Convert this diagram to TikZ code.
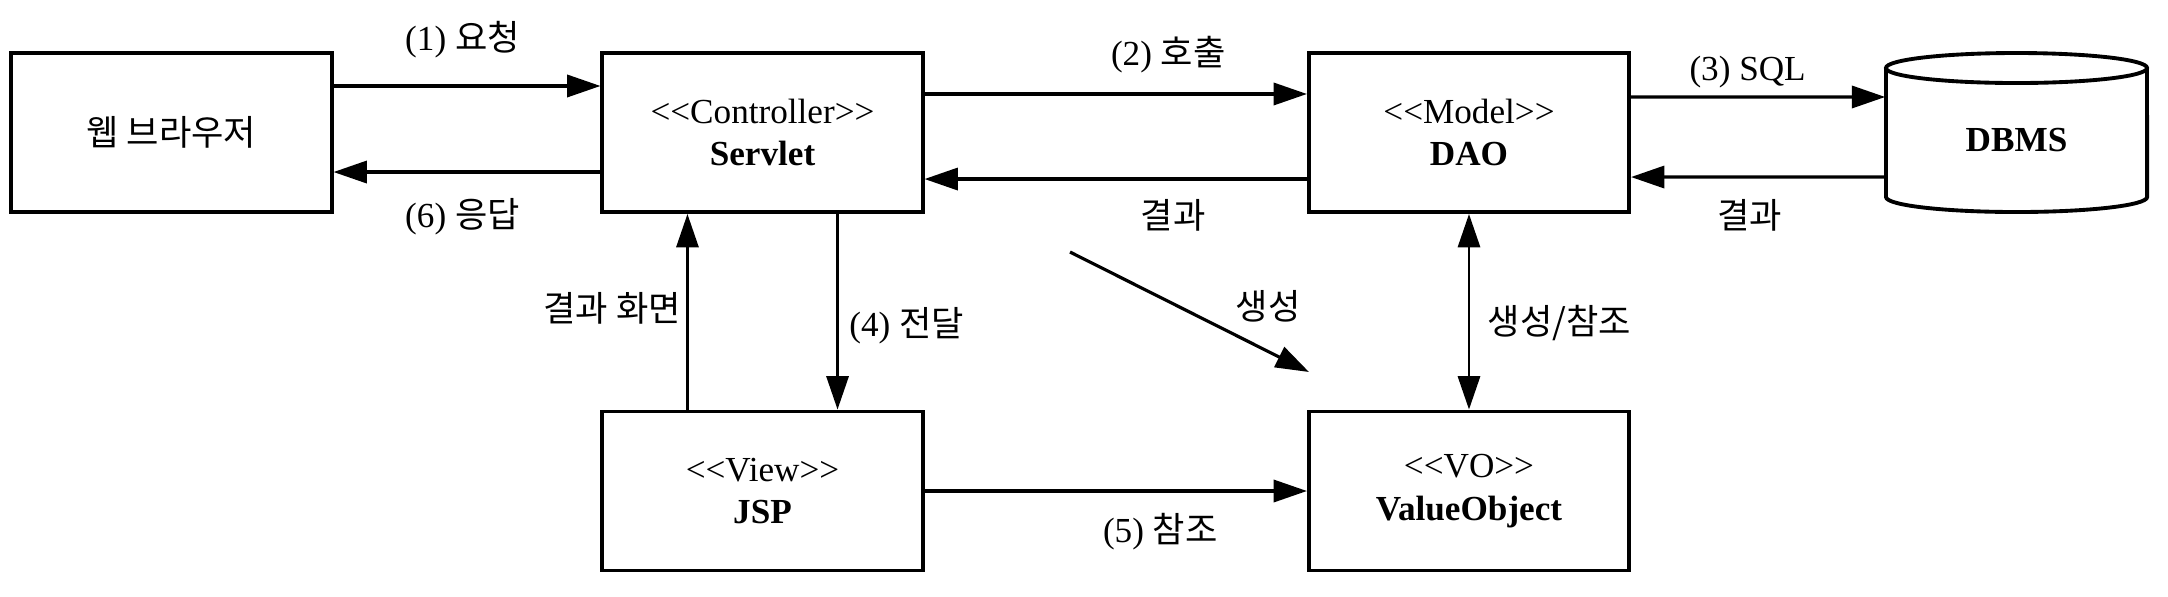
\documentclass[tikz,border=0pt]{standalone}
\usepackage{fontspec}
\setmainfont{Liberation Serif}
\newfontfamily\kr{Noto Sans CJK KR}
\usetikzlibrary{arrows.meta}
\newcommand{\ltlt}{<\kern0pt<}
\newcommand{\gtgt}{>\kern0pt>}
\newcommand{\stereo}[2]{\ltlt#1\gtgt\\\textbf{#2}}
\newcommand{\drawflow}{\draw[flow]}
\tikzset{
  box/.style={draw, line width=1.1pt, minimum width=3.2cm, minimum height=1.59cm, align=center},
  flow/.style={line width=0.9pt, -{Triangle[length=9.5pt,width=6.3pt]}},
  upflow/.style={flow, line width=0.75pt},
  lbl/.style={inner sep=2pt},
}

\begin{document}
\begin{tikzpicture}[x=0.01cm,y=-0.01cm]
\useasboundingbox (0,0) rectangle (2168,596);
\node[box] (browser) at (171.5,132.5) {\kr 웹 브라우저};
\node[box] (servlet) at (762.5,132.5) {\stereo{Controller}{Servlet}};
\node[box] (dao) at (1469,132.5) {\stereo{Model}{DAO}};
\node[box] (jsp) at (762.5,491) {\stereo{View}{JSP}};
\node[box] (vo) at (1469,491) {\stereo{VO}{ValueObject}};
\node[minimum width=2.61cm, minimum height=1.44cm, font=\bfseries] (dbms) at (2016.5,140) {DBMS};
\draw[line width=1.1pt] (1886,68) -- (1886,197) arc[start angle=180, end angle=360, x radius=1.305cm, y radius=0.15cm] -- (2147,68);
\draw[line width=1.1pt] (2016.5,68) ellipse[x radius=1.305cm, y radius=0.15cm];
\coordinate (mkstart) at (1070,252);
\coordinate (mkend) at (1309,372);
\drawflow ([yshift=0.465cm]browser.east) -- node[lbl, midway, xshift=-0.045cm, yshift=0.46cm] {(1) {\kr 요청}} ([yshift=0.465cm]servlet.west);
\drawflow ([yshift=-0.395cm]servlet.west) -- node[lbl, midway, xshift=-0.045cm, yshift=-0.45cm] {(6) {\kr 응답}} ([yshift=-0.395cm]browser.east);
\drawflow ([yshift=0.385cm]servlet.east) -- node[lbl, midway, xshift=0.525cm, yshift=0.39cm] {(2) {\kr 호출}} ([yshift=0.385cm]dao.west);
\drawflow ([yshift=-0.465cm]dao.west) -- node[lbl, midway, xshift=0.575cm, yshift=-0.36cm] {\kr 결과} ([yshift=-0.465cm]servlet.east);
\drawflow ([yshift=0.355cm]dao.east) -- node[lbl, midway, xshift=-0.105cm, yshift=0.25cm] {(3) SQL} ([yshift=0.43cm]dbms.west);
\drawflow ([yshift=-0.37cm]dbms.west) -- node[lbl, midway, xshift=-0.085cm, yshift=-0.38cm] {\kr 결과} ([yshift=-0.445cm]dao.east);
\draw[upflow] ([xshift=-0.75cm]jsp.north) -- node[lbl, pos=0.52, left=-0.5pt] {\kr 결과 화면} ([xshift=-0.75cm]servlet.south);
\draw[upflow] ([xshift=0.75cm]servlet.south) -- node[lbl, pos=0.57, right=1pt] {(4) {\kr 전달}} ([xshift=0.75cm]jsp.north);
\draw[upflow, {Triangle[length=9.5pt,width=6.3pt]}-{Triangle[length=9.5pt,width=6.3pt]}] (dao.south) -- node[lbl, pos=0.56, right=3pt] {\kr 생성/참조} (vo.north);
\drawflow (jsp.east) -- node[lbl, midway, xshift=0.445cm, yshift=-0.41cm] {(5) {\kr 참조}} (vo.west);
\drawflow (mkstart) -- node[lbl, midway, xshift=0.785cm, yshift=0.06cm] {\kr 생성} (mkend);
\end{tikzpicture}
\end{document}
